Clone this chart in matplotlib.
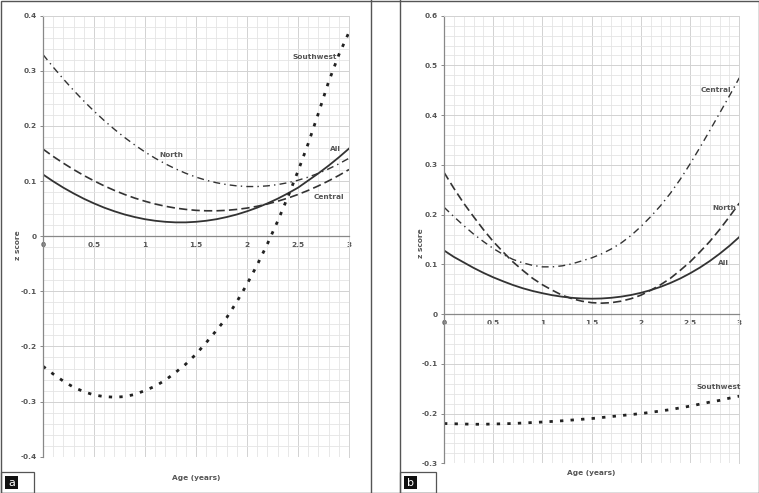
import numpy as np
import matplotlib
matplotlib.use("Agg")
import matplotlib.pyplot as plt
from matplotlib.patches import Rectangle
from matplotlib.lines import Line2D
from matplotlib.ticker import MultipleLocator

# ---------------- data ----------------
age = [0.0, 0.1, 0.2, 0.3, 0.4, 0.5, 0.6, 0.7, 0.8, 0.9, 1.0,
       1.1, 1.2, 1.3, 1.4, 1.5, 1.6, 1.7, 1.8, 1.9, 2.0,
       2.1, 2.2, 2.3, 2.4, 2.5, 2.6, 2.7, 2.8, 2.9, 3.0]

# Panel a
a_all = [0.112, 0.0995, 0.088, 0.0776, 0.068, 0.0595, 0.0518, 0.0452, 0.0394, 0.0347, 0.0308,
         0.028, 0.0261, 0.0251, 0.0251, 0.0261, 0.028, 0.0308, 0.0347, 0.0394, 0.0452,
         0.0518, 0.0595, 0.068, 0.0776, 0.088, 0.101, 0.114, 0.128, 0.143, 0.159]
a_central = [0.158, 0.1447, 0.1324, 0.1209, 0.1102, 0.1004, 0.0913, 0.0831, 0.0757, 0.0691, 0.0634,
             0.0584, 0.0543, 0.051, 0.0486, 0.0469, 0.0461, 0.0461, 0.0469, 0.0486, 0.051,
             0.0543, 0.0584, 0.0634, 0.0691, 0.0757, 0.0831, 0.0913, 0.1004, 0.1102, 0.1209]
a_north = [0.3295, 0.3067, 0.2851, 0.2646, 0.2452, 0.2269, 0.2098, 0.1939, 0.1791, 0.1654, 0.1528,
           0.1414, 0.1312, 0.1221, 0.1141, 0.1072, 0.1015, 0.097, 0.0936, 0.0913, 0.0901,
           0.0901, 0.0913, 0.0936, 0.097, 0.1015, 0.1072, 0.1141, 0.1221, 0.1312, 0.1414]
a_southwest = [-0.236, -0.250, -0.263, -0.274, -0.282, -0.288, -0.291, -0.292, -0.291, -0.287, -0.280,
               -0.272, -0.261, -0.247, -0.232, -0.214, -0.193, -0.171, -0.148, -0.119, -0.087,
               -0.052, -0.014, 0.027, 0.071, 0.118, 0.168, 0.223, 0.280, 0.329, 0.370]

# Panel b
b_all = [0.128, 0.115, 0.104, 0.093, 0.083, 0.074, 0.066, 0.0585, 0.052, 0.0465, 0.042,
         0.038, 0.035, 0.0327, 0.0314, 0.031, 0.0314, 0.0328, 0.0351, 0.0384, 0.0428,
         0.0482, 0.0548, 0.0626, 0.0716, 0.082, 0.0936, 0.1067, 0.1213, 0.1373, 0.155]
b_north = [0.285, 0.253, 0.223, 0.196, 0.170, 0.146, 0.125, 0.105, 0.088, 0.072, 0.059,
           0.048, 0.038, 0.031, 0.026, 0.023, 0.022, 0.023, 0.026, 0.031, 0.038,
           0.048, 0.059, 0.072, 0.088, 0.105, 0.125, 0.146, 0.170, 0.196, 0.223]
b_central = [0.215, 0.196, 0.178, 0.161, 0.146, 0.132, 0.120, 0.110, 0.103, 0.098, 0.095,
             0.095, 0.097, 0.101, 0.107, 0.113, 0.121, 0.131, 0.143, 0.158, 0.176,
             0.196, 0.218, 0.243, 0.271, 0.302, 0.335, 0.369, 0.404, 0.439, 0.475]
b_southwest = [-0.220, -0.2205, -0.221, -0.2215, -0.2215, -0.221, -0.2205, -0.220, -0.219, -0.218, -0.217,
               -0.2158, -0.2145, -0.213, -0.2115, -0.210, -0.208, -0.206, -0.204, -0.202, -0.200,
               -0.1975, -0.1948, -0.192, -0.1885, -0.185, -0.181, -0.177, -0.1735, -0.169, -0.165]

x_ticks = [0, 0.5, 1, 1.5, 2, 2.5, 3]
x_tick_labels = ["0", "0.5", "1", "1.5", "2", "2.5", "3"]
a_y_ticks = [-0.4, -0.3, -0.2, -0.1, 0, 0.1, 0.2, 0.3, 0.4]
a_y_labels = ["-0.4", "-0.3", "-0.2", "-0.1", "0", "0.1", "0.2", "0.3", "0.4"]
b_y_ticks = [-0.3, -0.2, -0.1, 0, 0.1, 0.2, 0.3, 0.4, 0.5, 0.6]
b_y_labels = ["-0.3", "-0.2", "-0.1", "0", "0.1", "0.2", "0.3", "0.4", "0.5", "0.6"]

# ---------------- figure ----------------
W, H = 759, 493
fig = plt.figure(figsize=(W / 100, H / 100), dpi=100)
fig.patch.set_facecolor("white")

LINE = "#333333"
TXT = "#555555"
FS = 5.3


def fx(px):
    return px / W


def fy(py):
    return 1 - py / H


def setup(ax, ylim, yticks, ylabels):
    ax.set_xlim(0, 3)
    ax.set_ylim(*ylim)
    ax.xaxis.set_minor_locator(MultipleLocator(0.1))
    ax.yaxis.set_minor_locator(MultipleLocator(0.02))
    ax.set_xticks(x_ticks)
    ax.set_xticklabels(x_tick_labels)
    ax.set_yticks(yticks)
    ax.set_yticklabels(ylabels)
    ax.grid(True, which="minor", color="#e4e4e4", lw=0.6)
    ax.grid(True, which="major", color="#d2d2d2", lw=0.7)
    ax.set_axisbelow(True)
    for s in ["top", "right"]:
        ax.spines[s].set_color("#d2d2d2")
        ax.spines[s].set_linewidth(0.7)
    ax.spines["left"].set_color("#888888")
    ax.spines["left"].set_linewidth(0.9)
    ax.spines["bottom"].set_position(("data", 0))
    ax.spines["bottom"].set_color("#888888")
    ax.spines["bottom"].set_linewidth(0.9)
    ax.tick_params(axis="x", which="both", length=0, pad=4, labelsize=FS,
                   labelcolor=TXT)
    ax.tick_params(axis="y", which="major", length=2.5, width=0.7, color="#888888",
                   pad=2, labelsize=FS, labelcolor=TXT)
    ax.tick_params(axis="y", which="minor", length=0)
    for lab in ax.get_xticklabels() + ax.get_yticklabels():
        lab.set_fontweight("bold")
    ax.set_facecolor("white")


# Panel a
axa = fig.add_axes([fx(43), fy(456.7), (349 - 43) / W, (456.7 - 15.7) / H])
setup(axa, (-0.4, 0.4), a_y_ticks, a_y_labels)
axa.plot(age, a_all, color=LINE, lw=1.3)
axa.plot(age, a_central, color=LINE, lw=1.2, dashes=(5, 2.5))
axa.plot(age, a_north, color=LINE, lw=1.0, dashes=(5, 3, 1, 3))
axa.plot(age, a_southwest, color="#222222", lw=2.0, dashes=(1.2, 2.6))

lab_kw = dict(fontsize=FS, fontweight="bold", color=TXT, ha="center", va="center",
              transform=fig.transFigure)
fig.text(fx(315), fy(57), "Southwest", **lab_kw)
fig.text(fx(171), fy(155), "North", **lab_kw)
fig.text(fx(335), fy(149), "All", **lab_kw)
fig.text(fx(329), fy(197), "Central", **lab_kw)
fig.text(fx(196), fy(478), "Age (years)", **lab_kw)
fig.text(fx(18), fy(245), "z score", rotation=90, **lab_kw)

# Panel b
axb = fig.add_axes([fx(444), fy(463.3), (739.3 - 444) / W, (463.3 - 15.7) / H])
setup(axb, (-0.3, 0.6), b_y_ticks, b_y_labels)
axb.plot(age, b_all, color=LINE, lw=1.3)
axb.plot(age, b_north, color=LINE, lw=1.2, dashes=(5, 2.5))
axb.plot(age, b_central, color=LINE, lw=1.0, dashes=(5, 3, 1, 3))
axb.plot(age, b_southwest, color="#222222", lw=2.0, dashes=(1.2, 2.6))

fig.text(fx(716), fy(90), "Central", **lab_kw)
fig.text(fx(724), fy(208), "North", **lab_kw)
fig.text(fx(723), fy(263), "All", **lab_kw)
fig.text(fx(719), fy(387), "Southwest", **lab_kw)
fig.text(fx(591), fy(473), "Age (years)", **lab_kw)
fig.text(fx(421), fy(243), "z score", rotation=90, **lab_kw)

# Frames and panel boxes
BORDER = "#555555"
fig.add_artist(Rectangle((fx(0.5), fy(492.5)), (W - 1) / W, (H - 1) / H,
                         transform=fig.transFigure, fill=False, ec=BORDER, lw=1.0))
for xp in (371.3, 400.3):
    fig.add_artist(Line2D([fx(xp), fx(xp)], [0, 1], transform=fig.transFigure,
                          color=BORDER, lw=1.0))
for (x0, x1, sq, letter) in [(0.5, 34, 5, "a"), (400.3, 436, 404, "b")]:
    fig.add_artist(Rectangle((fx(x0), fy(493)), (x1 - x0) / W, 21 / H,
                             transform=fig.transFigure, fill=False, ec=BORDER, lw=0.9))
    fig.add_artist(Rectangle((fx(sq), fy(489)), 13 / W, 13 / H,
                             transform=fig.transFigure, fc="#111111", ec="none"))
    fig.text(fx(sq + 6.5), fy(482.5), letter, color="white", fontsize=8,
             ha="center", va="center", transform=fig.transFigure)

fig.savefig("out.png", dpi=100, facecolor="white")
